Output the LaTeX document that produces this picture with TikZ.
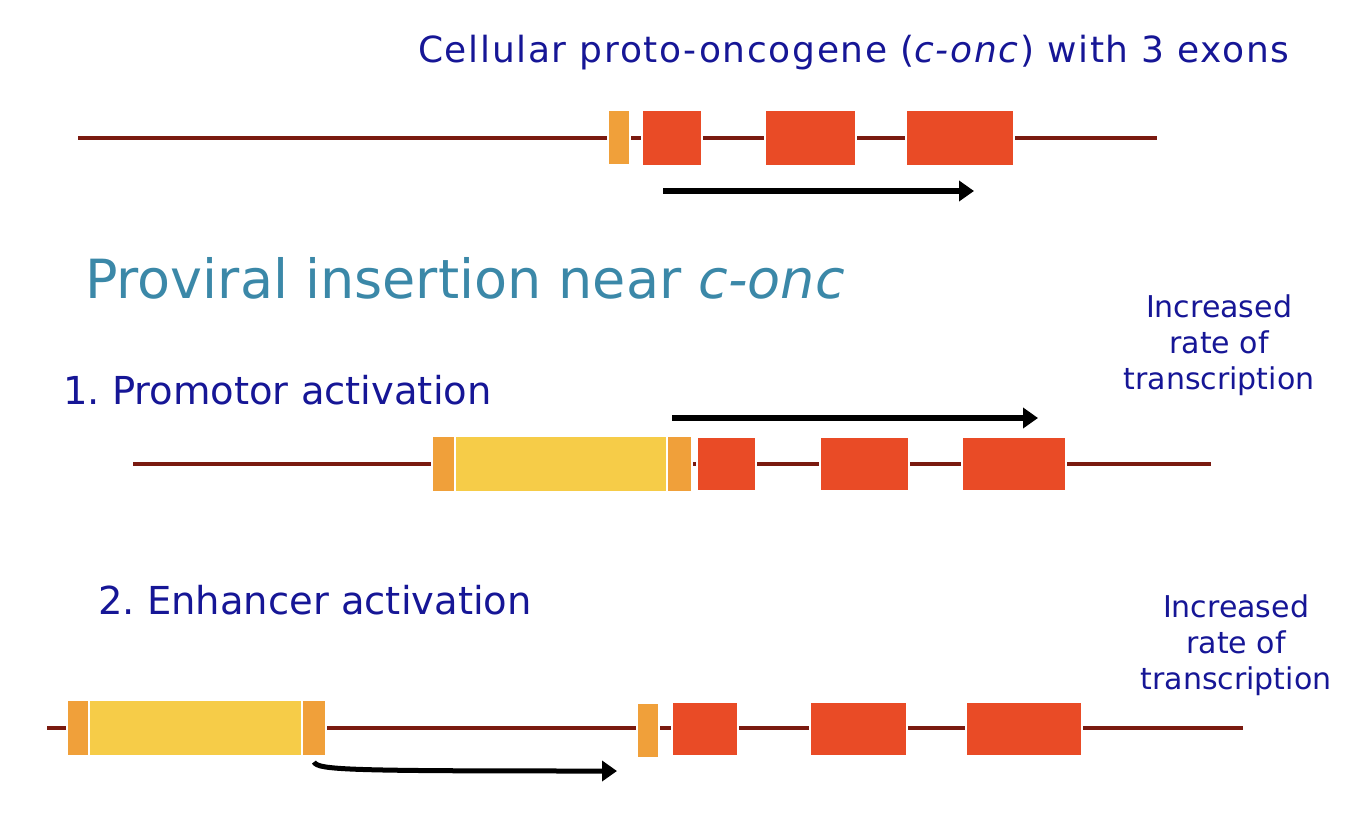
\documentclass[tikz,border=0pt]{standalone}
\usepackage{fontspec}
\setmainfont{DejaVu Sans}
\usetikzlibrary{arrows.meta}
\frenchspacing
\definecolor{exonred}{HTML}{E94B26}
\definecolor{ltrorange}{HTML}{F0A03A}
\definecolor{provyellow}{HTML}{F6CC48}
\definecolor{dnaline}{HTML}{7A1A10}
\definecolor{txtblue}{HTML}{161696}
\definecolor{txtteal}{HTML}{3B88A8}
\tikzset{
  box/.style={draw=white,line width=1.5pt,inner sep=0pt,outer sep=0pt},
  exon/.style={box,fill=exonred},
  ltr/.style={box,fill=ltrorange},
  prov/.style={box,fill=provyellow},
  dna/.style={draw=dnaline,line width=4.5pt},
  txarrow/.style={draw=black,line width=6pt,-{Triangle[length=15pt,width=20pt]}},
  bluetext/.style={text=txtblue,inner sep=0pt,font=\fontsize{38.5}{44}\selectfont},
  sidetext/.style={text=txtblue,inner sep=0pt,align=center,font=\fontsize{30}{36}\selectfont}
}
\newcommand{\gbox}[6]{% style, name, x1, y1, x2, y2
  \node[#1,minimum width={#5pt-#3pt},minimum height={#6pt-#4pt},anchor=north west] (#2) at (#3,#4) {};}
\begin{document}
\begin{tikzpicture}[x=1pt,y=-1pt]
\useasboundingbox (0,0) rectangle (1354,828);
% ---- texts
\node[text=txtblue,inner sep=0pt,anchor=west,font=\addfontfeatures{LetterSpace=4.6}\fontsize{36}{44}\selectfont] (title) at (418,53) {Cellular proto-oncogene (\textit{c-onc}) with 3 exons};
\node[text=txtteal,inner sep=0pt,anchor=west,font=\fontsize{54}{60}\selectfont] (prov) at (85,278) {Proviral insertion near \textit{c-onc}};
\node[bluetext,anchor=west] (l1) at (63,390) {1. Promotor activation};
\node[bluetext,anchor=west] (l2) at (98,600) {2. Enhancer activation};
\node[sidetext] (inc1) at (1219,345) {Increased\\rate of\\transcription};
\node[sidetext] (inc2) at (1236,645) {Increased\\rate of\\transcription};
% ---- row 1
\coordinate (d1s) at (78,138); \coordinate (d1e) at (1157,138);
\draw[dna] (d1s) -- (d1e);
\gbox{ltr}{a0}{608}{110}{630}{165}
\gbox{exon}{a1}{642}{110}{702}{166}
\gbox{exon}{a2}{765}{110}{856}{166}
\gbox{exon}{a3}{906}{110}{1014}{166}
\coordinate (t1s) at (663,191); \coordinate (t1e) at (974,191);
\draw[txarrow] (t1s) -- (t1e);
% ---- row 2
\coordinate (d2s) at (133,464); \coordinate (d2e) at (1211,464);
\draw[dna] (d2s) -- (d2e);
\gbox{ltr}{b0}{432}{436}{455}{492}
\gbox{prov}{bp}{455}{436}{667}{492}
\gbox{ltr}{b1}{667}{436}{692}{492}
\gbox{exon}{b2}{697}{437}{756}{491}
\gbox{exon}{b3}{820}{437}{909}{491}
\gbox{exon}{b4}{962}{437}{1066}{491}
\coordinate (t2s) at (672,418); \coordinate (t2e) at (1038,418);
\draw[txarrow] (t2s) -- (t2e);
% ---- row 3
\coordinate (d3s) at (47,728); \coordinate (d3e) at (1243,728);
\draw[dna] (d3s) -- (d3e);
\gbox{ltr}{c0}{67}{700}{89}{756}
\gbox{prov}{cp}{89}{700}{302}{756}
\gbox{ltr}{c1}{302}{700}{326}{756}
\gbox{ltr}{c2}{637}{703}{659}{758}
\gbox{exon}{c3}{672}{702}{738}{756}
\gbox{exon}{c4}{810}{702}{907}{756}
\gbox{exon}{c5}{966}{702}{1082}{756}
\coordinate (t3s) at (314,762); \coordinate (t3e) at (617,771);
\draw[txarrow,line width=5pt] (t3s) .. controls (318,770) and (345,771) .. (t3e);
\end{tikzpicture}
\end{document}
